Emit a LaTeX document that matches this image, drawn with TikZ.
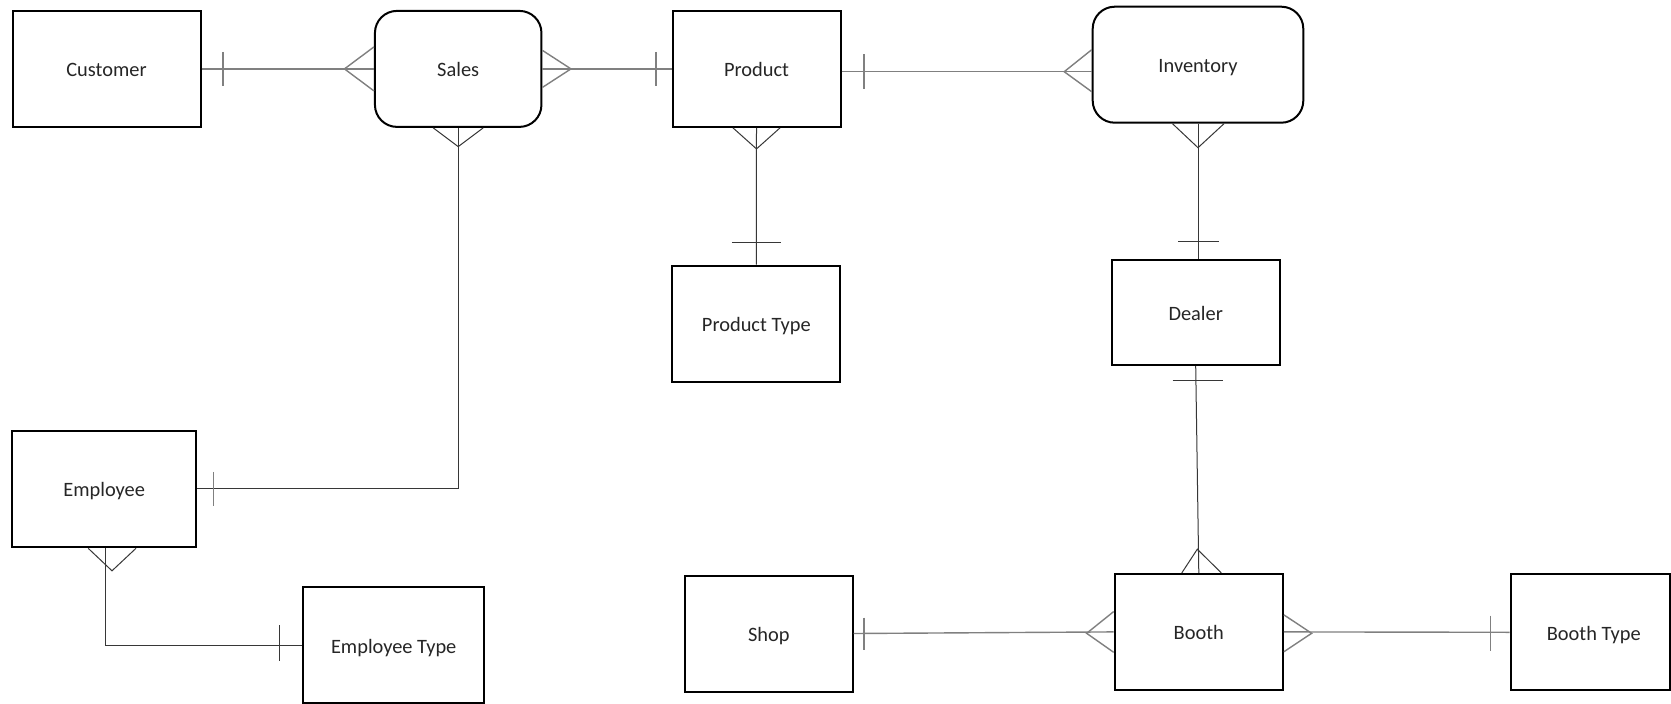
\documentclass[tikz,border=0pt]{standalone}
\usepackage{fontspec}
\setmainfont{Carlito}
\usetikzlibrary{calc}
\definecolor{hcol}{RGB}{128,128,128}
\definecolor{vcol}{RGB}{55,55,55}
\definecolor{txt}{RGB}{38,38,38}
\begin{document}
\begin{tikzpicture}[x=1pt,y=-1pt,
  entity/.style={draw=black,line width=2pt,inner sep=0pt,minimum height=116pt,
    text height=20pt,text depth=4pt,
    font=\fontsize{20.4}{24}\selectfont,text=txt},
  assoc/.style={entity,rounded corners=22pt},
  hl/.style={draw=hcol,line width=1.4pt},
  vl/.style={draw=vcol,line width=1pt}]
\useasboundingbox (0,0) rectangle (1671,704);
\fill[white] (0,0) rectangle (1671,704);

% entities
\node[entity,minimum width=188pt] (cust) at (106.5,68.9) {Customer};
\node[assoc,minimum width=166.5pt] (sales) at (458.2,68.9) {Sales};
\node[entity,minimum width=168pt] (prod) at (756.5,68.9) {Product};
\node[assoc,minimum width=210.6pt] (inv) at (1198,64.7) {Inventory};
\node[entity,minimum width=168pt] (ptype) at (756.3,323.5) {Product Type};
\node[entity,minimum width=168.4pt,minimum height=105pt] (dealer) at (1195.7,312.5) {Dealer};
\node[entity,minimum width=183.7pt] (emp) at (104.2,488.8) {Employee};
\node[entity,minimum width=180.7pt] (etype) at (393.7,645) {Employee Type};
\node[entity,minimum width=167.6pt] (shop) at (768.8,633.5) {Shop};
\node[entity,minimum width=168.3pt] (booth) at (1198.8,631.9) {Booth};
\node[entity,minimum width=159.4pt] (btype) at (1590.3,632.3) {\hspace*{7pt}Booth Type};

% Customer -- Sales
\draw[hl] (cust.east) -- (sales.west);
\draw[hl] ($(cust.east)+(21.5,-17)$) -- ++(0,34);
\draw[hl] ($(sales.west)+(0,-22)$) -- ($(sales.west)+(-29.5,0)$) -- ($(sales.west)+(0,22)$);

% Sales -- Product
\draw[hl] (sales.east) -- (prod.west);
\draw[hl] ($(sales.east)+(0,-18.5)$) -- ($(sales.east)+(28.5,0)$) -- ($(sales.east)+(0,18.5)$);
\draw[hl] ($(prod.west)+(-15.5,-17)$) -- ++(0,34);

% Sales -- Employee
\draw[vl] (sales.south) |- (emp.east);
\draw[vl] ($(sales.south)+(-25,0)$) -- ($(sales.south)+(0,18.7)$) -- ($(sales.south)+(25,0)$);
\draw[hl] ($(emp.east)+(16.7,-17)$) -- ++(0,34);

% Product -- Inventory
\coordinate (pi1) at ($(prod.east)+(0,2.8)$);
\coordinate (pi2) at (pi1 -| inv.west);
\draw[hl] (pi1) -- (pi2);
\draw[hl] ($(pi1)+(22.5,-17.5)$) -- ++(0,35);
\draw[hl] ($(pi2)+(0,-22)$) -- ($(pi2)+(-27.5,0)$) -- ($(pi2)+(0,20)$);

% Product -- Product Type
\draw[vl] (prod.south) -- (ptype.north);
\draw[vl] ($(prod.south)+(-23.5,0)$) -- ($(prod.south)+(0,21)$) -- ($(prod.south)+(23.5,0)$);
\draw[vl] ($(ptype.north)+(-24.5,-22)$) -- ++(49,0);

% Inventory -- Dealer
\coordinate (id2) at (inv.south |- dealer.north);
\draw[vl] (inv.south) -- (id2);
\draw[vl] ($(inv.south)+(-25.5,0)$) -- ($(inv.south)+(0,24)$) -- ($(inv.south)+(26,0)$);
\draw[vl] ($(id2)+(-20,-18)$) -- ++(41,0);

% Dealer -- Booth
\draw[vl] (dealer.south) -- (booth.north);
\draw[vl] ($(dealer.south)+(-23,14)$) -- ++(50,0);
\draw[vl] ($(booth.north)+(-17,0)$) -- ($(booth.north)+(-1.5,-23.7)$) -- ($(booth.north)+(22.5,0)$);

% Shop -- Booth
\draw[hl] (shop.east) -- (booth.west);
\draw[hl] ($(shop.east)+(10.4,-16)$) -- ++(0,32);
\draw[hl] ($(booth.west)+(0,-20.3)$) -- ($(booth.west)+(-27,1.4)$) -- ($(booth.west)+(0,20.4)$);

% Booth -- Booth Type
\draw[hl] (booth.east) -- (btype.west);
\draw[hl] ($(booth.east)+(0,-17)$) -- ($(booth.east)+(27.7,1.4)$) -- ($(booth.east)+(0,19.8)$);
\draw[hl] ($(btype.west)+(-19,-16.6)$) -- ++(0,35);

% Employee -- Employee Type
\draw[vl] ($(emp.south)+(0.8,0)$) |- (etype.west);
\draw[vl] ($(emp.south)+(-16,0.5)$) -- ($(emp.south)+(7.8,23)$) -- ($(emp.south)+(31.8,0.5)$);
\draw[vl] ($(etype.west)+(-22.6,-20)$) -- ++(0,36);
\end{tikzpicture}
\end{document}
